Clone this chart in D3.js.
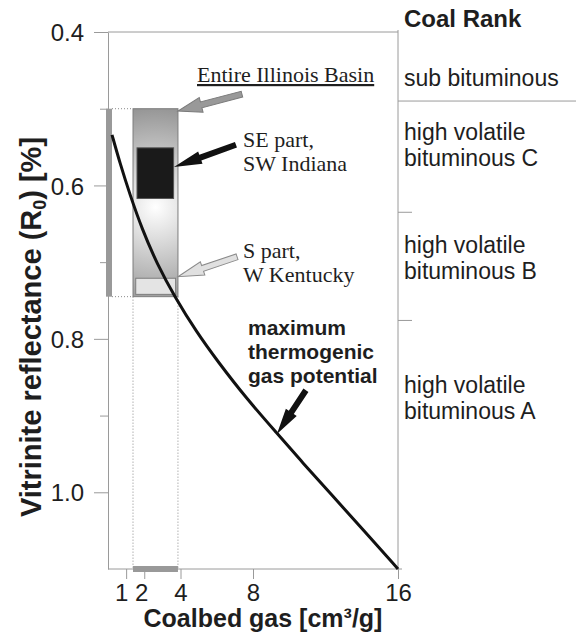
<!DOCTYPE html>
<html>
<head>
<meta charset="utf-8">
<script src="https://cdn.jsdelivr.net/npm/d3@7"></script>
<style>
  html, body { margin: 0; padding: 0; background: #fff; }
  svg { display: block; }
</style>
</head>
<body>
<div id="chart"></div>
<script>
// maximum thermogenic gas potential curve
const curveGas = [0.22, 0.66, 1.21, 1.88, 2.70, 3.70, 4.91, 6.01, 7.61, 9.32, 10.76, 12.25, 14.12, 16];
const curveRo  = [0.534, 0.571, 0.612, 0.657, 0.702, 0.746, 0.792, 0.828, 0.877, 0.923, 0.962, 1.001, 1.050, 1.1];

// Illinois Basin ranges: [gasMin, gasMax, roMin, roMax]
const basinRange    = [1.38, 3.86, 0.500, 0.745];
const indianaRange  = [1.60, 3.62, 0.551, 0.617];
const kentuckyRange = [1.53, 3.73, 0.721, 0.742];

// coal rank boundaries (Ro %) and names
const rankBounds = [0.49, 0.635, 0.776];
const rankNames = [
  ['sub bituminous'],
  ['high volatile', 'bituminous C'],
  ['high volatile', 'bituminous B'],
  ['high volatile', 'bituminous A']
];

const yTicks = [0.4, 0.6, 0.8, 1.0];
const yMinor = [0.5, 0.7, 0.9];
const xTicks = [1, 2, 4, 8, 16];

// annotation arrows: [tailGas, tailRo, tipGas, tipRo]
const arrowBasin    = [7.39, 0.481, 3.86, 0.503];
const arrowIndiana  = [7.06, 0.547, 3.64, 0.576];
const arrowKentucky = [7.12, 0.693, 3.86, 0.719];
const arrowCurve    = [10.92, 0.867, 9.32, 0.924];

const W = 576, H = 639;
const SANS = '"Liberation Sans", Arial, Helvetica, sans-serif';
const SERIF = '"Liberation Serif", "Times New Roman", serif';
const AXIS = '#9a9a9a';
const INK = '#1e1e1e';

const x = d3.scaleLinear().domain([0, 16]).range([108, 398]);
const y = d3.scaleLinear().domain([0.4, 1.1]).range([32, 569]);

const svg = d3.select('#chart').append('svg')
  .attr('width', W)
  .attr('height', H);

const defs = svg.append('defs');
const grad = defs.append('radialGradient')
  .attr('id', 'boxGrad')
  .attr('gradientUnits', 'userSpaceOnUse')
  .attr('cx', x((basinRange[0] + basinRange[1]) / 2))
  .attr('cy', y(0.628))
  .attr('r', 110);
grad.append('stop').attr('offset', '0').attr('stop-color', '#ffffff');
grad.append('stop').attr('offset', '1').attr('stop-color', '#8a8a8a');

// ---- axes ----
const yAxis = svg.append('g')
  .attr('transform', `translate(${x(0)},0)`)
  .call(d3.axisLeft(y).tickValues(yTicks).tickSize(14).tickSizeOuter(0)
    .tickFormat(d3.format('.1f')).tickPadding(10));
svg.append('g')
  .attr('transform', `translate(${x(0)},0)`)
  .call(d3.axisLeft(y).tickValues(yMinor).tickSize(8).tickSizeOuter(0).tickFormat(''))
  .select('.domain').remove();

const xAxis = svg.append('g')
  .attr('transform', `translate(0,${y(1.1)})`)
  .call(d3.axisBottom(x).tickValues(xTicks).tickSize(10).tickSizeOuter(0).tickPadding(5));

[yAxis, xAxis].forEach(g => {
  g.select('.domain').attr('stroke', AXIS);
  g.selectAll('.tick text')
    .attr('fill', INK)
    .style('font-family', SANS)
    .style('font-size', '24px');
});
svg.selectAll('.tick line').attr('stroke', AXIS);
yAxis.selectAll('.tick text').attr('dy', '0.36em');
// nudge crowded 1 and 2 labels apart
xAxis.selectAll('.tick text')
  .attr('dx', d => d === 1 ? -5 : d === 2 ? -3 : 0);
xAxis.select('.domain').attr('d', `M${x(0)},0H${x(16) + 4}`);

// top frame and right divider
svg.append('line')
  .attr('x1', x(0)).attr('x2', x(16))
  .attr('y1', y(0.4)).attr('y2', y(0.4))
  .attr('stroke', AXIS);
svg.append('line')
  .attr('x1', x(16)).attr('x2', x(16))
  .attr('y1', y(0.4) - 2).attr('y2', y(1.1))
  .attr('stroke', AXIS);

// ---- coal rank column ----
svg.append('line')
  .attr('x1', x(16)).attr('x2', W)
  .attr('y1', y(rankBounds[0])).attr('y2', y(rankBounds[0]))
  .attr('stroke', AXIS);
svg.selectAll('.rank-tick')
  .data(rankBounds.slice(1))
  .join('line')
  .attr('class', 'rank-tick')
  .attr('x1', x(16)).attr('x2', x(16) + 14)
  .attr('y1', d => y(d)).attr('y2', d => y(d))
  .attr('stroke', AXIS);

svg.append('text')
  .attr('x', 404).attr('y', 27)
  .attr('fill', INK)
  .style('font-family', SANS).style('font-size', '24px').style('font-weight', 'bold')
  .text('Coal Rank');

const rankBaselines = [86, 140, 253, 393];
rankNames.forEach((lines, i) => {
  const t = svg.append('text')
    .attr('x', 404).attr('y', rankBaselines[i])
    .attr('fill', INK)
    .style('font-family', SANS).style('font-size', '23px');
  lines.forEach((ln, j) => {
    t.append('tspan').attr('x', 404).attr('dy', j === 0 ? 0 : 26).text(ln);
  });
});

// ---- dotted guides ----
const dotted = svg.append('g')
  .attr('stroke', '#8a8a8a')
  .attr('stroke-width', 1)
  .attr('stroke-dasharray', '1,2')
  .attr('fill', 'none');
[basinRange[2], basinRange[3]].forEach(r => {
  dotted.append('line')
    .attr('x1', x(0) + 4).attr('x2', x(basinRange[0]))
    .attr('y1', y(r)).attr('y2', y(r));
});
[basinRange[0], basinRange[1]].forEach(g => {
  dotted.append('line')
    .attr('x1', x(g)).attr('x2', x(g))
    .attr('y1', y(basinRange[3])).attr('y2', y(1.1));
});

// range bars on the axes
svg.append('rect')
  .attr('x', x(0) - 2).attr('width', 6)
  .attr('y', y(basinRange[2])).attr('height', y(basinRange[3]) - y(basinRange[2]))
  .attr('fill', '#999');
svg.append('rect')
  .attr('x', x(basinRange[0])).attr('width', x(basinRange[1]) - x(basinRange[0]))
  .attr('y', y(1.1) - 3).attr('height', 6)
  .attr('fill', '#999');

// ---- basin boxes ----
function box(r, fill, stroke) {
  return svg.append('rect')
    .attr('x', x(r[0])).attr('width', x(r[1]) - x(r[0]))
    .attr('y', y(r[2])).attr('height', y(r[3]) - y(r[2]))
    .attr('fill', fill).attr('stroke', stroke).attr('stroke-width', 1);
}
box(basinRange, 'url(#boxGrad)', '#7d7d7d');
box(indianaRange, '#1a1a1a', '#555');
box(kentuckyRange, '#e4e4e4', '#7d7d7d');

// ---- gas potential curve ----
const curvePts = curveGas.map((g, i) => [g, curveRo[i]]);
svg.append('path')
  .datum(curvePts)
  .attr('fill', 'none')
  .attr('stroke', '#111')
  .attr('stroke-width', 3)
  .attr('d', d3.line().x(d => x(d[0])).y(d => y(d[1])).curve(d3.curveBasis));

// ---- arrows ----
function arrow(a, opt) {
  const x0 = x(a[0]), y0 = y(a[1]), x1 = x(a[2]), y1 = y(a[3]);
  const len = Math.hypot(x1 - x0, y1 - y0);
  const ang = Math.atan2(y1 - y0, x1 - x0) * 180 / Math.PI;
  const sw = opt.shaft / 2, hw = opt.head / 2, hl = opt.headLen;
  const pts = [[0, -sw], [len - hl, -sw], [len - hl, -hw], [len, 0],
    [len - hl, hw], [len - hl, sw], [0, sw]];
  svg.append('polygon')
    .attr('transform', `translate(${x0},${y0}) rotate(${ang})`)
    .attr('points', pts.map(p => p.join(',')).join(' '))
    .attr('fill', opt.fill)
    .attr('stroke', opt.stroke)
    .attr('stroke-width', opt.stroke === 'none' ? 0 : 1);
}
arrow(arrowBasin, { shaft: 6, head: 15, headLen: 24, fill: '#999', stroke: '#7a7a7a' });
arrow(arrowIndiana, { shaft: 6, head: 13, headLen: 28, fill: '#111', stroke: 'none' });
arrow(arrowKentucky, { shaft: 6, head: 14, headLen: 26, fill: '#e0e0e0', stroke: '#8a8a8a' });
arrow(arrowCurve, { shaft: 6, head: 13, headLen: 26, fill: '#111', stroke: 'none' });

// ---- annotation text ----
function serifLines(x0, y0, lines) {
  const t = svg.append('text')
    .attr('x', x0).attr('y', y0)
    .attr('fill', INK)
    .style('font-family', SERIF).style('font-size', '22px');
  lines.forEach((ln, j) => t.append('tspan').attr('x', x0).attr('dy', j === 0 ? 0 : 24).text(ln));
  return t;
}
svg.append('text')
  .attr('x', 197).attr('y', 82)
  .attr('fill', INK)
  .style('font-family', SERIF).style('font-size', '22px')
  .style('text-decoration', 'underline')
  .text('Entire Illinois Basin');
serifLines(243, 147, ['SE part,', 'SW Indiana']);
serifLines(243, 258, ['S part,', 'W Kentucky']);

const maxT = svg.append('text')
  .attr('x', 248).attr('y', 335)
  .attr('fill', INK)
  .style('font-family', SANS).style('font-size', '21px').style('font-weight', 'bold');
['maximum', 'thermogenic', 'gas potential'].forEach((ln, j) =>
  maxT.append('tspan').attr('x', 248).attr('dy', j === 0 ? 0 : 24).text(ln));

// ---- axis titles ----
svg.append('text')
  .attr('x', (x(0) + x(16)) / 2 + 10).attr('y', 627)
  .attr('text-anchor', 'middle')
  .attr('fill', INK)
  .style('font-family', SANS).style('font-size', '25px').style('font-weight', 'bold')
  .text('Coalbed gas [cm³/g]');

const yt = svg.append('text')
  .attr('transform', 'translate(41,327) rotate(-90)')
  .attr('text-anchor', 'middle')
  .attr('fill', INK)
  .style('font-family', SANS).style('font-size', '29px').style('font-weight', 'bold');
yt.append('tspan').text('Vitrinite reflectance (R');
yt.append('tspan').attr('dy', 5).style('font-size', '18px').text('0');
yt.append('tspan').attr('dy', -5).text(') [%]');
</script>
</body>
</html>
